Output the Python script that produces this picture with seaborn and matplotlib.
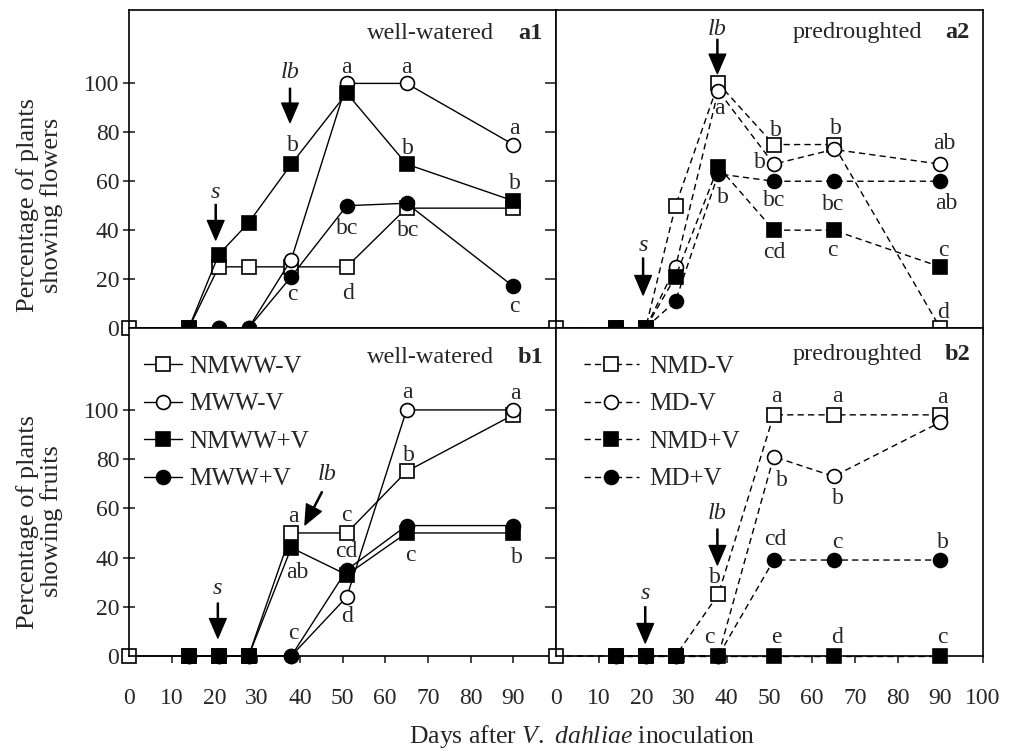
import numpy as np
import pandas as pd
import matplotlib.pyplot as plt
import seaborn as sns

# days after inoculation
days = [0, 14, 21, 28, 38, 51, 65, 90]
nan = np.nan

# a1: flowers, well-watered
fl_nmww_neg = [0, 0, 25, 25, 25, 25, 49, 49]
fl_mww_neg = [nan, 0, 0, 0, 28, 100, 100, 75]
fl_nmww_pos = [nan, 0, 30, 43, 67, 96, 67, 52]
fl_mww_pos = [nan, 0, 0, 0, 21, 50, 51, 17]

# a2: flowers, predroughted
fl_nmd_neg = [0, 0, 0, 50, 100, 75, 75, 0]
fl_md_neg = [nan, 0, 0, 25, 97, 67, 73, 67]
fl_nmd_pos = [nan, 0, 0, 21, 66, 40, 40, 25]
fl_md_pos = [nan, 0, 0, 11, 63, 60, 60, 60]

# b1: fruits, well-watered
fr_nmww_neg = [0, 0, 0, 0, 50, 50, 75, 98]
fr_mww_neg = [nan, 0, 0, 0, 0, 24, 100, 100]
fr_nmww_pos = [nan, 0, 0, 0, 44, 33, 50, 50]
fr_mww_pos = [nan, 0, 0, 0, 0, 35, 53, 53]

# b2: fruits, predroughted
fr_nmd_neg = [0, 0, 0, 0, 25, 98, 98, 98]
fr_md_neg = [nan, 0, 0, 0, 0, 81, 73, 95]
fr_nmd_pos = [nan, 0, 0, 0, 0, 0, 0, 0]
fr_md_pos = [nan, 0, 0, 0, 0, 39, 39, 39]

ww_labels = ['NMWW-V', 'MWW-V', 'NMWW+V', 'MWW+V']
pd_labels = ['NMD-V', 'MD-V', 'NMD+V', 'MD+V']

# significance letters (text, day, y)
letters_a1 = [('a', 51, 106.5), ('a', 65, 106.5), ('a', 90.3, 81.5), ('b', 38.3, 74.5),
              ('b', 65.3, 73.5), ('b', 90.3, 59), ('bc', 51, 40.5), ('bc', 65.3, 40),
              ('c', 38.3, 13.5), ('d', 51.2, 14.3), ('c', 90.3, 8.6)]
letters_a2 = [('a', 38.3, 89.8), ('b', 51.6, 80.8), ('b', 65.5, 81.6), ('b', 47.7, 67.8),
              ('ab', 91, 75.5), ('b', 39, 53.5), ('bc', 51.2, 52.2), ('bc', 65, 50.6),
              ('ab', 91.3, 51), ('cd', 51.2, 31), ('c', 64.8, 31.8), ('c', 90.8, 31.8),
              ('d', 90.6, 6.5)]
letters_b1 = [('a', 38.4, 56.5), ('c', 51, 57.3), ('cd', 51, 42.3), ('ab', 39.3, 34),
              ('a', 65.3, 107), ('a', 90.4, 106.5), ('b', 65.6, 81.3), ('c', 65.8, 41),
              ('b', 90.9, 40.2), ('d', 51, 15.9), ('c', 38.4, 9.3)]
letters_b2 = [('a', 51.6, 105.3), ('a', 66, 105.3), ('a', 90.6, 104.9), ('b', 52.8, 71.5),
              ('b', 66, 64.2), ('cd', 51.4, 47.2), ('c', 66, 46.3), ('b', 90.6, 46.3),
              ('b', 37.2, 31.7), ('c', 35.9, 7.7), ('e', 51.5, 7.7), ('d', 65.8, 7.7),
              ('c', 90.6, 7.7)]

sns.set_style('ticks')
plt.rcParams['font.family'] = ['Liberation Serif', 'DejaVu Serif']
plt.rcParams['mathtext.fontset'] = 'custom'
plt.rcParams['mathtext.rm'] = 'Liberation Serif'
plt.rcParams['mathtext.it'] = 'Liberation Serif:italic'
plt.rcParams['axes.linewidth'] = 1.2

fig = plt.figure(figsize=(10.2, 7.48), dpi=100)
ax_a1 = fig.add_axes([0.1265, 0.5615, 0.4186, 0.4251])
ax_a2 = fig.add_axes([0.5451, 0.5615, 0.4186, 0.4251])
ax_b1 = fig.add_axes([0.1265, 0.1230, 0.4186, 0.4385])
ax_b2 = fig.add_axes([0.5451, 0.1230, 0.4186, 0.4385])

styles = [('s', False), ('o', False), ('s', True), ('o', True)]


def draw_panel(ax, series, labels, dashed):
    for vals, lab, (mk, filled) in zip(series, labels, styles):
        d = pd.DataFrame({'day': days, 'pct': vals}).dropna()
        sns.lineplot(data=d, x='day', y='pct', ax=ax, color='black', marker=mk,
                     markersize=10, markerfacecolor='black' if filled else 'white',
                     markeredgecolor='black', markeredgewidth=1.2, linewidth=1.0,
                     linestyle=(0, (4.5, 3)) if dashed else '-', label=lab,
                     clip_on=False, errorbar=None, legend=False)


draw_panel(ax_a1, [fl_nmww_neg, fl_mww_neg, fl_nmww_pos, fl_mww_pos], ww_labels, False)
draw_panel(ax_a2, [fl_nmd_neg, fl_md_neg, fl_nmd_pos, fl_md_pos], pd_labels, True)
draw_panel(ax_b1, [fr_nmww_neg, fr_mww_neg, fr_nmww_pos, fr_mww_pos], ww_labels, False)
draw_panel(ax_b2, [fr_nmd_neg, fr_md_neg, fr_nmd_pos, fr_md_pos], pd_labels, True)

for ax in [ax_a1, ax_a2, ax_b1, ax_b2]:
    ax.set_xlim(0, 100)
    ax.set_xlabel('')
    ax.set_ylabel('')
    ax.set_yticks([0, 20, 40, 60, 80, 100])
    for sp in ax.spines.values():
        sp.set_visible(True)
        sp.set_linewidth(1.2)
        sp.set_color('black')
    ax.tick_params(axis='x', direction='out', length=5, width=1.2, labelsize=17, pad=18)

ax_a1.set_ylim(0, 130)
ax_a2.set_ylim(0, 130)
ax_b1.set_ylim(0, 133.3)
ax_b2.set_ylim(0, 133.3)

ax_a1.set_xticks(range(0, 100, 10))
ax_b1.set_xticks(range(0, 100, 10))
ax_a2.set_xticks(range(0, 110, 10))
ax_b2.set_xticks(range(0, 110, 10))

for ax in [ax_a1, ax_a2]:
    ax.tick_params(axis='x', labelbottom=False)
for ax in [ax_a1, ax_b1]:
    ax.tick_params(axis='y', direction='inout', length=8, width=1.2, labelsize=17, pad=3)
for ax in [ax_a2, ax_b2]:
    ax.tick_params(axis='y', direction='out', length=8, width=1.2, labelleft=False)

# panel titles
for ax, t, tag, y in [(ax_a1, 'well-watered', 'a1', 120.4), (ax_a2, 'predroughted', 'a2', 120.8),
                      (ax_b1, 'well-watered', 'b1', 121.5), (ax_b2, 'predroughted', 'b2', 122.4)]:
    ax.text(70.5, y, t, ha='center', va='center', fontsize=17.5)
    ax.text(94, y, tag, ha='center', va='center', fontsize=17.5, fontweight='bold')

for ax, lets in [(ax_a1, letters_a1), (ax_a2, letters_a2), (ax_b1, letters_b1), (ax_b2, letters_b2)]:
    for t, x, y in lets:
        ax.text(x, y, t, ha='center', va='center', fontsize=17)


def mark(ax, txt, tx, ty, x0, y0, x1, y1):
    ax.text(tx, ty, txt, ha='center', va='center', fontsize=17.5, style='italic')
    ax.annotate('', xy=(x1, y1), xytext=(x0, y0),
                arrowprops=dict(facecolor='black', edgecolor='black', width=0.8,
                                headwidth=12, headlength=14, shrink=0))


mark(ax_a1, 's', 20.3, 55.5, 20.3, 50.5, 20.3, 36)
mark(ax_a1, 'lb', 37.7, 104.5, 37.7, 98, 37.7, 84)
mark(ax_a2, 's', 20.4, 33.9, 20.4, 28.6, 20.4, 13.5)
mark(ax_a2, 'lb', 37.8, 122, 37.8, 118, 37.8, 104)
mark(ax_b1, 's', 20.8, 27.6, 20.8, 21.5, 20.8, 7.3)
mark(ax_b1, 'lb', 46.4, 73.6, 45.2, 66.7, 41.2, 53.3)
mark(ax_b2, 's', 20.9, 25.6, 20.9, 20, 20.9, 5.3)
mark(ax_b2, 'lb', 37.8, 58, 37.8, 51.6, 37.8, 37)

ax_b1.legend(loc='upper left', bbox_to_anchor=(0.0, 0.962), frameon=False, fontsize=18,
             handlelength=1.5, handletextpad=0.3, labelspacing=0.6, borderaxespad=0.2)
ax_b2.legend(loc='upper left', bbox_to_anchor=(0.03, 0.962), frameon=False, fontsize=18,
             handlelength=2.2, handletextpad=0.4, labelspacing=0.6, borderaxespad=0.2)

ax_a1.set_ylabel('Percentage of plants\nshowing flowers', fontsize=19, linespacing=1.05)
ax_a1.yaxis.set_label_coords(-0.155, 0.387)
ax_b1.set_ylabel('Percentage of plants\nshowing fruits', fontsize=19, linespacing=1.05)
ax_b1.yaxis.set_label_coords(-0.155, 0.41)

fig.text(0.571, 0.016, r'Days after $\mathit{V.}$ $\mathit{dahliae}$ inoculation', ha='center',
         va='center', fontsize=18.5)

fig.savefig('out.png', dpi=100)
